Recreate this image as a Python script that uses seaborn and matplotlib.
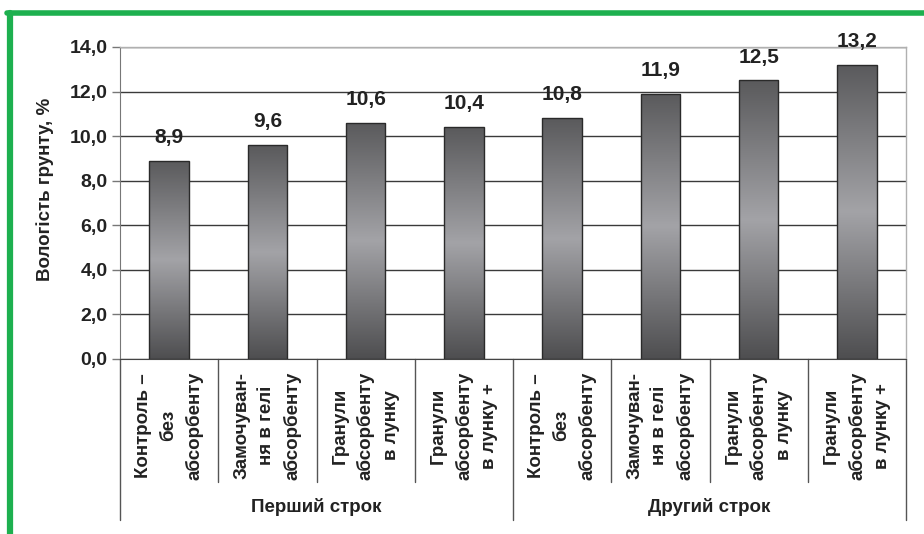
import numpy as np
import pandas as pd
import matplotlib
matplotlib.use("Agg")
import matplotlib.pyplot as plt
import matplotlib.transforms as mtransforms
from matplotlib.colors import LinearSegmentedColormap
from matplotlib.ticker import FuncFormatter, MultipleLocator
import seaborn as sns

# дані
terms = ["Перший строк"] * 4 + ["Другий строк"] * 4
variants = [
    "Контроль –\nбез\nабсорбенту",
    "Замочуван-\nня в гелі\nабсорбенту",
    "Гранули\nабсорбенту\nв лунку",
    "Гранули\nабсорбенту\nв лунку +",
] * 2
moisture = [8.9, 9.6, 10.6, 10.4, 10.8, 11.9, 12.5, 13.2]
group_names = ["Перший строк", "Другий строк"]

df = pd.DataFrame({"строк": terms, "варіант": variants, "value": moisture})
df["key"] = [f"{i}" for i in range(len(df))]

sns.set_style("white")
plt.rcParams["font.family"] = ["Liberation Sans", "DejaVu Sans"]
plt.rcParams["font.weight"] = "bold"

fig = plt.figure(figsize=(9.24, 5.34), dpi=100)
ax = fig.add_axes([120 / 924, 1 - 359 / 534, 786 / 924, 312 / 534])

sns.barplot(data=df, x="key", y="value", width=0.4, color="#777777",
            edgecolor="#2a2a2a", linewidth=1.0, ax=ax, zorder=2)

# градієнтна заливка стовпчиків
cmap = LinearSegmentedColormap.from_list("bar", ["#4e4e50", "#a3a3a7", "#5a5a5c"])
grad = np.linspace(0, 1, 256).reshape(-1, 1)
for p in ax.patches:
    x0, y0 = p.get_x(), p.get_y()
    w, h = p.get_width(), p.get_height()
    im = ax.imshow(grad, extent=[x0, x0 + w, y0, y0 + h], origin="lower",
                   aspect="auto", cmap=cmap, zorder=1.5, interpolation="bicubic")
    im.set_clip_path(p)
    p.set_facecolor("none")

ax.set_xlim(-0.5, len(df) - 0.5)
ax.set_ylim(0, 14)
ax.yaxis.set_major_locator(MultipleLocator(2))
ax.yaxis.set_major_formatter(FuncFormatter(lambda v, _: f"{v:.1f}".replace(".", ",")))
ax.grid(axis="y", color="#3a3a3a", linewidth=1.0)
ax.set_axisbelow(True)

for s in ["top", "right"]:
    ax.spines[s].set_color("#b0b0b0")
    ax.spines[s].set_linewidth(1.0)
ax.spines["left"].set_color("#777777")
ax.spines["bottom"].set_color("#444444")

ax.tick_params(axis="y", length=6, width=1, color="#777777", pad=3,
               labelsize=14, labelcolor="#222222", left=True)
ax.tick_params(axis="x", length=0, pad=9)
ax.set_xticks(range(len(df)))
ax.set_xticklabels(df["варіант"], rotation=90, ha="center", va="top",
                   multialignment="center", linespacing=1.6,
                   fontsize=13.5, color="#222222")
for lab in ax.get_yticklabels():
    lab.set_fontweight("bold")

ax.set_xlabel("")
ax.set_ylabel("")
fig.text(45 / 924, 1 - 189 / 534, "Вологість грунту, %", rotation=90,
         ha="center", va="center", fontsize=13.5, fontweight="bold", color="#222222")

# підписи значень
ax.bar_label(ax.containers[0], labels=[f"{v:.1f}".replace(".", ",") for v in moisture],
             padding=10, fontsize=15, fontweight="bold", color="#222222")

# розділювачі категорій під віссю
trans = mtransforms.blended_transform_factory(ax.transData, ax.transAxes)
for i in range(len(df) + 1):
    bottom = -0.516 if i % 4 == 0 else -0.394
    ax.plot([i - 0.5, i - 0.5], [0, bottom], color="#555555", lw=1,
            transform=trans, clip_on=False)
for g, name in enumerate(group_names):
    ax.text(g * 4 + 1.5, -0.474, name, transform=trans, ha="center", va="center",
            fontsize=13.5, fontweight="bold", color="#222222")

# зелена рамка
green = "#1db04f"
fig.add_artist(plt.Line2D([7 / 924, 1], [1 - 12.5 / 534] * 2, color=green, lw=4,
                          transform=fig.transFigure))
fig.add_artist(plt.Line2D([10 / 924] * 2, [0, 1 - 12.5 / 534], color=green, lw=4.5,
                          transform=fig.transFigure))

fig.savefig("out.png", dpi=100)
